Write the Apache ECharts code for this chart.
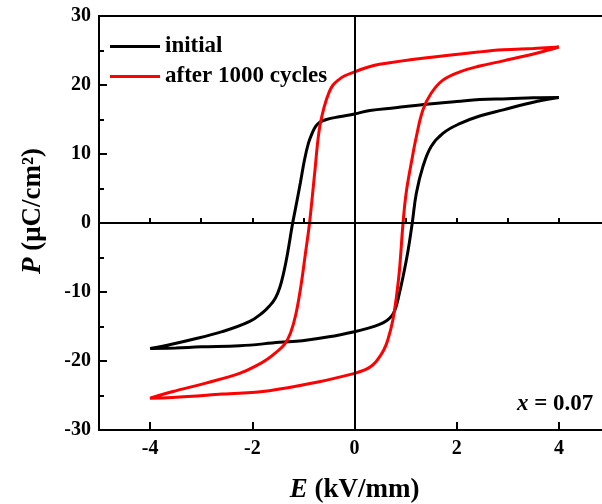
<!DOCTYPE html>
<html>
<head>
<meta charset="utf-8">
<script src="https://cdn.jsdelivr.net/npm/echarts@6/dist/echarts.min.js"></script>
<style>
  html, body { margin: 0; padding: 0; background: #fff; }
  #main { width: 602px; height: 504px; }
</style>
</head>
<body>
<div id="main"></div>
<script>
// initial loop: top branch (E falling 4 -> -4), then bottom branch (E rising -4 -> 4)
const initialE = [4, 3.5, 3, 2.45, 2, 1.4, 0.8, 0.3, 0, -0.3, -0.55, -0.68, -0.76, -0.83, -0.9, -0.98, -1.06, -1.16, -1.21, -1.26, -1.31, -1.38, -1.46, -1.55, -1.66, -1.8, -2.06, -2.59, -3.24, -3.6, -4,
                  -3.5, -3, -2.25, -1.47, -1.02, -0.5, 0, 0.29, 0.49, 0.62, 0.7, 0.76, 0.81, 0.86, 0.95, 1.05, 1.13, 1.21, 1.34, 1.5, 1.73, 2.06, 2.45, 2.91, 3.56, 4]
const initialP = [18.2, 18.15, 18.0, 17.9, 17.6, 17.2, 16.7, 16.3, 15.8, 15.4, 15.0, 14.6, 14.0, 13.0, 11.6, 9.1, 5.8, 1.9, 0, -2.2, -4.4, -7.0, -9.3, -10.9, -12.0, -13.0, -14.3, -15.75, -17.0, -17.6, -18.2,
                  -18.1, -17.95, -17.8, -17.3, -17.06, -16.5, -15.75, -15.2, -14.7, -14.2, -13.7, -13.1, -12.2, -10.8, -7.8, -3.9, 0, 4.3, 8.2, 11.1, 13.0, 14.4, 15.5, 16.4, 17.6, 18.2]

// after 1000 cycles
const cycledE = [4, 3.5, 2.91, 2.45, 1.37, 0.49, 0.29, 0, -0.2, -0.32, -0.42, -0.5, -0.59, -0.69, -0.78, -0.88, -0.96, -1.05, -1.15, -1.25, -1.37, -1.54, -1.7, -1.9, -2.25, -2.91, -3.57, -4,
                  -3.57, -2.59, -1.67, -0.69, 0, 0.2, 0.32, 0.42, 0.5, 0.58, 0.65, 0.75, 0.82, 0.88, 0.95, 1.01, 1.11, 1.21, 1.34, 1.5, 1.73, 2.06, 2.45, 2.91, 3.56, 4]
const cycledP = [25.5, 25.3, 25.1, 24.8, 23.9, 23.0, 22.65, 21.9, 21.3, 20.7, 20.0, 18.9, 16.9, 13.5, 7.2, 0, -4.4, -9.2, -13.3, -15.9, -17.6, -18.8, -19.7, -20.6, -21.8, -23.2, -24.45, -25.4,
                  -25.3, -24.8, -24.3, -23.0, -21.8, -21.3, -20.8, -20.1, -19.3, -18.3, -17.0, -14.1, -10.7, -6.8, 0, 4.3, 8.65, 12.5, 16.4, 18.8, 20.7, 21.9, 22.75, 23.5, 24.6, 25.5]

const seriesNames = ['initial', 'after 1000 cycles']
const seriesColors = ['#000000', '#ff0000']

const yTicks = [-30, 30, 10]
const xRange = [-5, 5]

function pairs(xs, ys) {
    return xs.map(function (x, i) { return [x, ys[i]] })
}

const font = '"Liberation Serif", "Times New Roman", serif'
const chart = echarts.init(document.getElementById('main'), null, { renderer: 'canvas' })

const option = {
    backgroundColor: '#fff',
    animation: false,
    grid: {
        left: 99, top: 16, width: 511, height: 414,
        outerBoundsMode: 'none', containLabel: false,
        show: true, borderColor: '#000', borderWidth: 2, backgroundColor: 'transparent'
    },
    legend: {
        left: 105, top: 30, orient: 'vertical',
        itemWidth: 50, itemHeight: 3, itemGap: 7,
        icon: 'rect',
        textStyle: { fontFamily: font, fontWeight: 'bold', fontSize: 23, color: '#000' },
        data: seriesNames
    },
    xAxis: [{
        type: 'value', position: 'bottom',
        min: xRange[0], max: xRange[1],
        axisLine: { show: true, onZero: false, lineStyle: { color: '#000', width: 2 } },
        axisTick: { inside: true, length: 8, lineStyle: { color: '#000', width: 2 } },
        axisLabel: {
            margin: 9, showMinLabel: false, showMaxLabel: false,
            fontFamily: font, fontWeight: 'bold', fontSize: 20, color: '#000',
            formatter: function (v) { return v % 2 === 0 ? String(v) : '' }
        },
        splitLine: { show: false },
        name: '{i|E} (kV/mm)',
        nameLocation: 'middle', nameGap: 47,
        nameTextStyle: {
            fontFamily: font, fontWeight: 'bold', fontSize: 27, color: '#000',
            rich: { i: { fontFamily: font, fontStyle: 'italic', fontWeight: 'bold', fontSize: 27 } }
        }
    }, {
        // minor ticks every 1 kV/mm
        type: 'value', position: 'bottom',
        min: xRange[0], max: xRange[1], interval: 1,
        axisLine: { show: false },
        axisTick: { inside: true, length: 5, lineStyle: { color: '#000', width: 2 } },
        axisLabel: { show: false },
        splitLine: { show: false }
    }],
    yAxis: {
        type: 'value',
        min: yTicks[0], max: yTicks[1], interval: yTicks[2],
        axisLine: { show: true, onZero: false, lineStyle: { color: '#000', width: 2 } },
        axisTick: { inside: true, length: 8, lineStyle: { color: '#000', width: 2 } },
        minorTick: { show: true, splitNumber: 2, length: 5, lineStyle: { color: '#000', width: 2 } },
        axisLabel: { margin: 8, fontFamily: font, fontWeight: 'bold', fontSize: 20, color: '#000' },
        splitLine: { show: false },
        name: '{i|P} (μC/cm²)',
        nameLocation: 'middle', nameGap: 52, nameRotate: 90,
        nameTextStyle: {
            fontFamily: font, fontWeight: 'bold', fontSize: 27, color: '#000',
            padding: [0, 0, 0, 24],
            rich: { i: { fontFamily: font, fontStyle: 'italic', fontWeight: 'bold', fontSize: 27 } }
        }
    },
    graphic: [{
        type: 'text', left: 517, top: 393,
        style: {
            text: '{i|x} = 0.07',
            fontFamily: font, fontWeight: 'bold', fontSize: 23, fill: '#000',
            rich: { i: { fontFamily: font, fontStyle: 'italic', fontWeight: 'bold', fontSize: 23 } }
        }
    }],
    series: [{
        name: seriesNames[0], type: 'line',
        data: pairs(initialE, initialP),
        showSymbol: false, smooth: 0.4,
        lineStyle: { color: seriesColors[0], width: 3 },
        itemStyle: { color: seriesColors[0] },
        markLine: {
            silent: true, symbol: 'none', label: { show: false },
            lineStyle: { color: '#000', width: 2, type: 'solid' },
            data: [{ xAxis: 0 }, { yAxis: 0 }]
        }
    }, {
        name: seriesNames[1], type: 'line',
        data: pairs(cycledE, cycledP),
        showSymbol: false, smooth: 0.4,
        lineStyle: { color: seriesColors[1], width: 3 },
        itemStyle: { color: seriesColors[1] }
    }]
}

chart.setOption(option)
</script>
</body>
</html>
